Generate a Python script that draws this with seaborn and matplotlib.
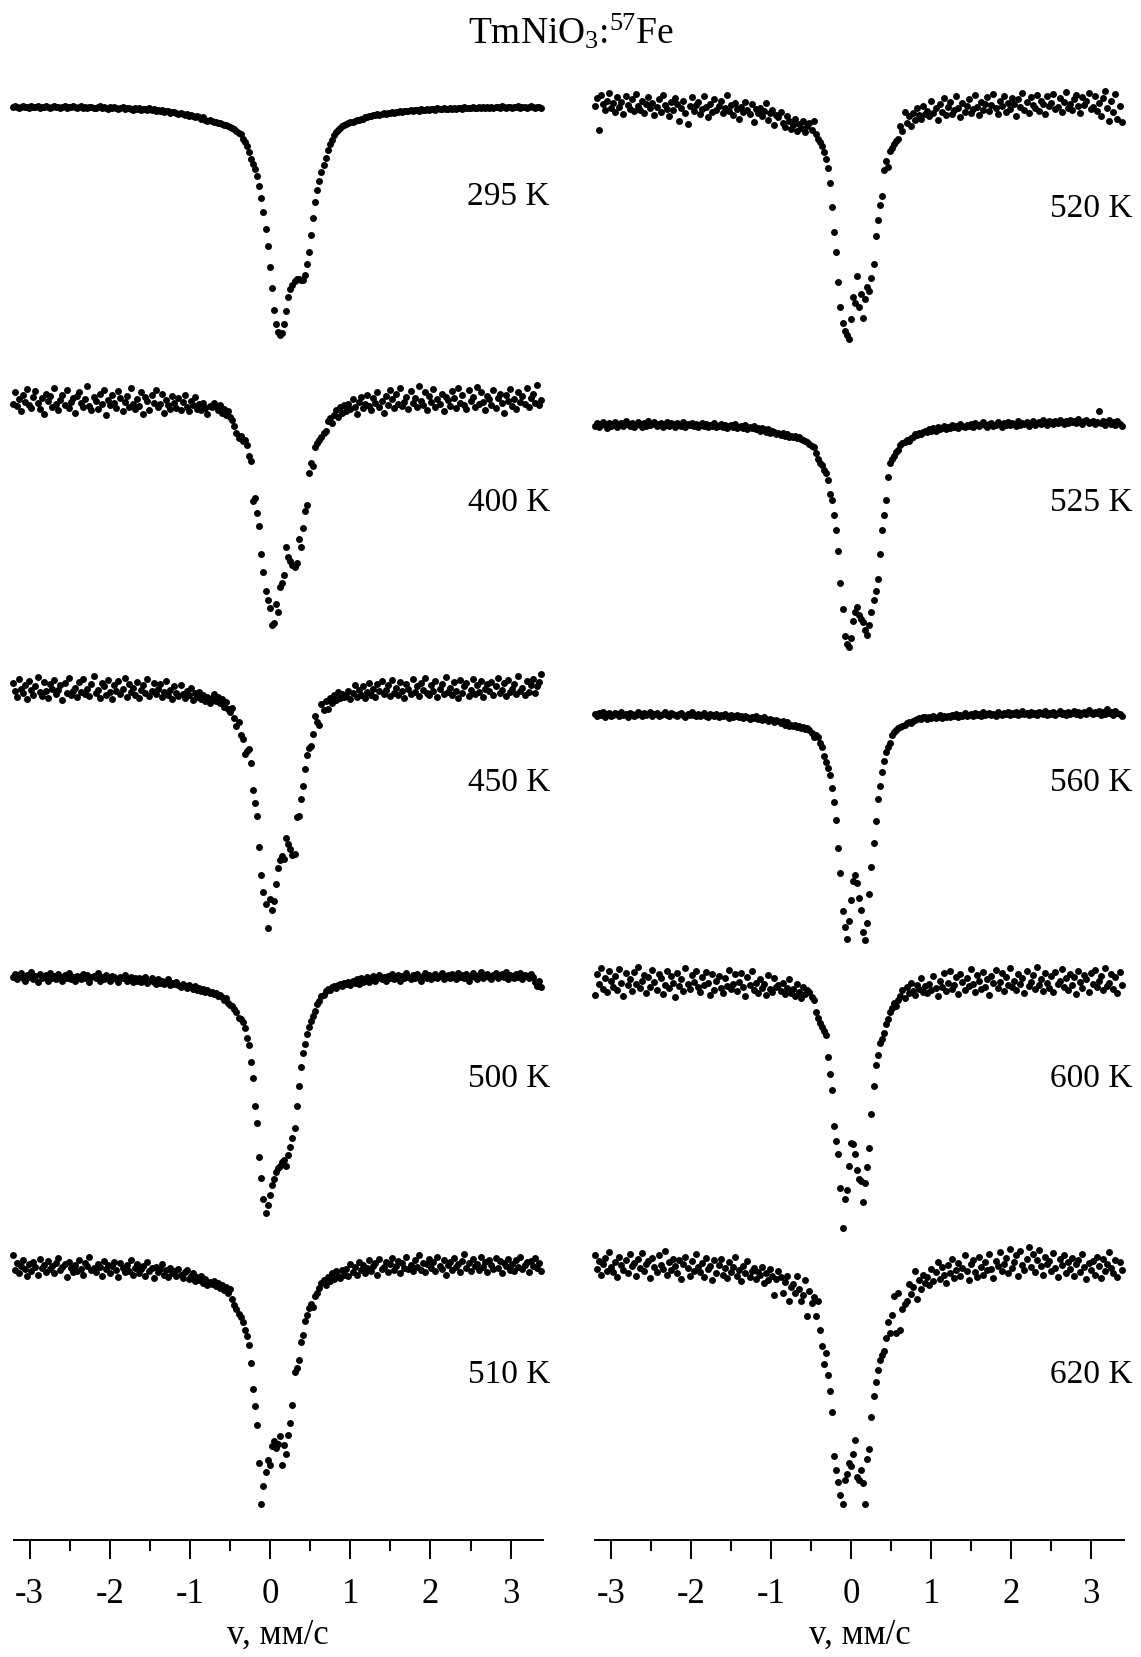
import numpy as np
import pandas as pd
import matplotlib
matplotlib.use("Agg")
import matplotlib.pyplot as plt
import seaborn as sns
from matplotlib.ticker import MultipleLocator

sns.set_theme(style="white")
plt.rcParams['font.family'] = ['Liberation Serif', 'DejaVu Serif']
plt.rcParams['mathtext.fontset'] = 'custom'
plt.rcParams['mathtext.rm'] = 'Liberation Serif'
plt.rcParams['mathtext.it'] = 'Liberation Serif:italic'
plt.rcParams['axes.unicode_minus'] = False

# ---------------- data ----------------
TITLE = r"TmNiO$_3$:$^{57}$Fe"
XLABEL = "v, мм/с"
V_START, V_STOP, N_CHANNELS = -3.21, 3.38, 256   # velocity of first / last channel, mm/s

LEFT_TEMPS = [295, 400, 450, 500, 510]
RIGHT_TEMPS = [520, 525, 560, 600, 620]

# resonant absorption (arb. units, 0 = off-resonance level) per channel
A295 = [1,0,1,2,1,0,1,1,2,0, 1,1,0,2,1,1,0,1,2,1, 0,1,1,2,1,0,2,1,1,0, 1,2,1,0,2,1,2,1,1,2,
        2,1,0,2,1,2,3,1,2,1, 2,3,2,1,3,2,2,3,4,2, 3,2,4,3,3,4,2,4,3,5, 4,5,4,6,5,5,7,6,6,7,
        8,7,8,9,8,10,9,10,11,10, 11,12,11,13,14,13,
        14,15,15,16,16,17,18,18,19,20,21,22,24,26,27,31,34,38,44,50,55,60,66,76,87,100,116,133,152,172,
        193,206,214,217,215,206,194,181,173,169,166,164,164,165,165,160,150,138,122,106,91,80,71,63,56,
        49,42,36,32,28,25,23,21,19,18,
        17,16,15,15,14,13,13,12,12,11, 11,10,10,9,9,8,9,8,7,8, 7,7,6,7,6,6,5,6,5,5, 5,4,5,4,4,5,3,4,4,3,
        4,3,3,4,2,3,3,2,3,3, 2,3,2,3,2,2,3,1,2,2, 2,1,2,2,1,2,1,2,1,2, 1,2,1,1,2,0,1,2,1,1,
        2,1,1,0,2,1,1,2,1,0, 1,2,1,1,2]
A400 = [3,-8,5,-2,10,-6,1,-11,4,7, -4,-9,2,8,-3,12,-7,0,-5,6, -12,3,9,-1,-6,4,-10,7,1,-3,
        11,-5,-8,2,6,-2,-14,5,9,-4, 0,8,-7,3,-10,13,-1,4,-6,2, 7,-9,-3,10,1,-5,6,-12,3,8,
        -2,5,-8,12,-4,0,9,-6,2,-10, 6,3,-7,11,-1,4,8,-5,2,7, -3,9,1,-6,6,10,0,4,-4,8, 3,9,2,7,12,5,
        6,2,5,9,4,11,8,13,10,15,18,24,30,35,33,38,37,42,52,57,95,92,106,118,145,162,180,188,196,212,
        210,192,200,176,172,165,138,148,151,155,157,153,131,138,120,104,98,68,59,62,44,40,37,34,30,
        28,19,16,21,13,9,15,6,11,4,
        10,3,8,-2,6,12,1,-4,7,3, -6,5,9,-3,2,-8,6,0,11,-5, 4,-10,-2,7,-7,3,-12,5,1,-4,
        8,-9,2,-3,6,-14,0,4,-8,9, -5,1,-11,6,-2,3,-7,10,-4,-1, 5,-9,-3,7,-12,2,-6,4,8,-10,
        0,-4,6,-13,3,-8,1,9,-5,-2, 4,-10,7,-3,-7,2,11,-6,0,-11, 5,-2,8,-8,1,-5,3,-12,6,-3, -7,2,-15,4,-1]
A450 = [-5,2,8,-9,0,4,-3,10,-7,1, 6,-2,-11,3,7,-6,2,9,-4,0, -8,5,1,-3,11,-5,4,-10,6,2,
        -1,8,-6,3,-9,5,0,7,-4,-12, 4,1,9,-5,-2,6,-8,3,10,-3, 2,-7,5,0,-10,8,-4,3,-1,6,
        -6,9,1,-3,4,-9,7,2,-5,5, 0,-4,8,3,-7,6,1,10,-2,4, 7,-3,5,9,2,6,-1,11,4,8, 3,10,6,12,8,14,
        9,5,12,8,14,10,17,13,19,22,18,28,35,32,44,48,62,59,57,70,96,108,120,150,176,192,204,226,199,209,
        201,185,170,162,158,161,141,147,152,157,156,121,120,104,92,76,63,56,54,43,26,32,34,15,20,
        12,19,9,14,6,11,3,9,5,8,
        7,2,10,4,-3,8,1,6,-2,9, 3,-5,6,0,8,-4,2,-7,5,1, -3,7,-8,4,-1,6,-6,2,9,-4,
        0,5,-9,3,-2,7,-5,1,-10,4, 6,-3,2,-7,8,0,-4,5,-11,3, -1,6,-6,2,9,-8,4,-2,-5,7,
        1,-9,5,-3,3,-7,8,0,-4,2, -6,6,-2,-10,4,1,-5,7,-8,3, 0,-4,5,-12,2,-1,6,-7,3,-3, -9,4,-2,-6,-14]
A500 = [0,-3,2,-1,-4,1,3,-2,0,-5, 2,-1,4,-3,1,0,-2,3,-4,1, -1,2,-3,0,3,-2,1,-4,2,0,
        3,-1,0,2,-3,1,-2,4,0,-1, 1,-4,3,0,2,-2,1,3,-1,0, 2,4,0,1,-2,3,2,0,4,1,
        3,1,4,2,0,5,3,1,4,6, 2,5,3,6,4,2,7,5,6,4, 7,9,6,8,10,7,9,11,8,12, 10,13,11,14,12,15,
        14,16,15,18,17,19,21,20,24,26,27,30,33,38,39,42,48,57,64,80,95,122,138,170,190,210,223,215,206,196,
        191,184,180,178,175,173,178,168,160,152,142,122,103,85,72,63,54,47,41,37,32,25,22,18,17,
        13,11,12,9,8,10,7,6,8,5,
        6,4,7,3,5,2,6,1,4,3, 0,4,2,-1,3,1,-2,2,0,3, -1,1,-3,2,0,-2,3,-1,1,-4,
        0,2,-2,1,-3,0,3,-1,-4,1, -2,2,0,-3,1,-1,-4,2,0,-2, 1,-3,-1,2,-4,0,-2,1,-3,3,
        -1,-4,0,2,-2,-5,1,-1,-3,0, 2,-2,-4,1,-1,-3,0,-5,2,-2, -1,1,-3,0,-4,2,-2,-1,1,-3, 0,4,8,3,9]
A510 = [-10,4,-3,7,0,-6,3,9,-2,5, -4,1,8,-7,2,-1,6,-5,3,0, 7,-3,-8,4,1,-2,10,-4,2,6,
        -1,5,-6,3,8,-3,0,-9,4,2, 6,-2,1,9,-5,3,-1,7,0,-4, 4,10,-3,2,6,-1,5,-6,8,2,
        -2,7,3,0,9,-4,5,2,11,1, 6,3,-2,8,4,10,2,7,5,9, 3,8,11,6,4,12,9,7,14,10, 13,9,16,12,18,15,
        17,14,19,16,21,18,23,20,25,22,31,37,41,45,48,53,60,66,75,92,116,132,150,186,225,208,195,183,188,170,
        165,172,168,161,188,169,178,160,148,131,100,96,89,72,65,52,46,40,36,39,28,25,21,16,13,
        18,10,14,7,12,5,9,11,4,8,
        3,9,-2,6,1,8,-4,4,-1,7, 2,-6,5,0,-3,8,-7,3,1,-4, 6,-2,-8,4,0,-5,7,-3,2,-9,
        3,-1,5,-6,1,-10,4,-3,6,-2, -7,2,-4,5,-9,0,3,-6,8,-1, -4,4,-8,1,-2,6,-5,-11,2,-3,
        5,-7,0,-2,4,-9,1,-4,6,-6, -1,3,-8,2,-5,7,-3,0,-7,4, -2,5,-6,1,-9,3,-1,-4,6,-5, 0,-8,2,-3,5]
A520 = [2,-5,25,-8,0,6,-3,-10,4,-1, 8,-6,3,-2,10,-7,1,5,-4,7, -9,2,6,-3,9,0,-6,4,-1,11,
        3,-4,8,-8,1,5,12,-2,6,-5, 0,16,4,-3,9,19,2,-6,7,1, -2,10,5,-7,3,13,0,8,-4,6,
        2,-3,9,4,-8,7,1,11,-1,5, 14,3,8,-2,6,10,0,17,5,9, 4,12,7,-1,15,9,6,20,11,13, 8,18,22,12,16,24,
        20,14,26,19,23,16,27,21,18,25,16,29,33,36,40,46,52,61,75,98,121,140,169,192,207,215,219,222,204,183,
        188,163,192,180,203,185,173,177,165,152,125,110,96,87,63,54,60,45,42,38,35,33,21,26,8,
        18,12,21,9,15,4,11,14,2,10,
        7,12,-3,9,4,15,0,8,-5,11, 3,-2,10,6,-7,4,13,-1,8,2, -4,9,5,-8,3,11,-2,6,0,-6,
        7,1,-9,4,10,-3,2,-7,8,-1, 5,-5,0,12,-4,3,-10,6,-2,9, -6,1,4,-8,7,-3,0,10,-7,2,
        -1,-9,5,3,-5,8,-2,-11,4,0, 6,-4,-8,2,9,-6,1,-3,-10,5, 3,-7,7,-1,12,-5,-12,4,16,-3, 8,-9,14,2,17]
A525 = [2,-1,3,0,-2,1,4,-1,2,0, -2,3,1,-1,2,-3,0,2,-1,3, 1,-2,0,3,-1,2,-3,1,0,-2,
        2,0,-1,3,1,-2,2,-1,0,3, -1,1,2,-2,3,0,1,-1,2,0, 3,1,-1,2,0,3,1,2,-1,3,
        2,0,3,1,4,2,1,3,0,4, 3,2,4,1,5,3,4,2,5,4, 6,4,5,7,5,8,6,7,9,8, 10,8,11,9,12,11,
        12,11,13,12,14,15,16,17,19,21,22,27,33,37,39,43,46,53,66,72,86,100,120,150,175,200,208,211,202,186,
        178,173,180,184,187,195,199,190,178,166,158,146,123,100,86,72,50,37,33,30,26,24,20,18,17,
        15,16,13,12,9,10,8,9,7,6,
        7,5,6,4,6,3,5,4,2,5, 3,4,1,3,2,4,0,2,3,1, 2,0,3,-1,1,2,0,-2,1,3,
        0,-1,2,1,-2,0,3,-1,1,-2, 1,-1,0,2,-3,1,-1,0,-2,2, 0,-3,1,-1,-2,0,-4,-1,1,-3,
        -2,0,-3,-1,-4,-2,0,-3,-1,-4, -2,-3,-1,-5,-2,0,-3,-4,-1,-2, -3,0,-2,-12,-1,-3,1,-2,-4,0, -2,1,-3,0,2]
A560 = [0,2,-1,1,-2,3,0,-1,2,1, -1,0,2,-2,1,0,3,-1,0,2, 1,-2,0,2,-1,1,0,-2,2,0,
        -1,2,1,0,-2,1,2,-1,0,1, 2,0,-1,1,3,0,1,-2,1,2, 0,2,1,-1,2,3,0,1,2,0,
        3,1,2,0,2,4,1,3,2,1, 3,2,4,2,3,5,3,4,2,5, 4,6,3,5,7,5,6,8,6,7, 9,7,10,8,11,10,
        11,10,12,11,13,12,14,13,15,18,22,20,22,27,31,40,45,51,58,70,83,100,127,150,186,201,213,196,176,158,
        152,160,174,185,206,214,198,170,145,122,101,80,68,55,44,36,31,27,20,17,15,13,12,11,10,
        9,8,9,7,6,5,4,5,3,3,
        5,3,4,2,4,3,1,4,2,3, 2,3,1,2,0,3,1,2,-1,2, 1,0,2,-1,1,0,2,-2,1,0,
        -1,1,0,2,-2,0,1,-1,0,-2, 1,-1,0,-2,1,0,-3,0,-1,1, -2,0,-1,1,-2,-1,0,-3,1,-1,
        0,-2,1,-1,-3,0,-1,1,-2,0, -1,-3,0,-2,1,-1,-2,0,-4,-1, 0,-2,-1,-3,1,-2,0,-5,-1,-2, 1,-3,-1,0,2]
A600 = [14,-6,3,-12,8,-2,11,-9,0,6, -4,9,-11,2,15,-7,4,-1,10,-8, 3,-13,7,0,-5,12,-3,6,-10,1,
        9,-6,-2,13,4,-9,7,-4,2,16, -7,5,-1,10,-12,3,8,-5,1,-9, 6,11,-3,4,-8,2,14,-6,9,0,
        -4,7,12,-2,5,-10,8,3,-6,10, 1,-7,6,15,-3,4,-9,9,2,12, -1,7,3,14,-5,8,11,-2,6,4, 10,2,13,7,-1,12,
        8,15,3,11,17,6,13,9,11,16,18,30,35,40,44,48,52,72,88,104,138,152,164,196,234,207,198,175,154,155,
        164,179,188,190,209,191,176,158,126,100,80,70,59,55,50,41,36,30,26,21,24,18,15,9,17,
        6,12,2,10,14,4,8,-2,11,5,
        12,3,9,-4,7,15,0,6,-7,10, 2,-9,8,4,-3,13,-6,1,9,-2, 5,-11,3,11,-5,0,8,-8,6,-1,
        14,-4,2,-10,7,1,-7,10,-3,4, -12,6,0,9,-6,3,-2,12,-9,5, 1,-5,8,-13,4,-1,10,-7,2,7,
        -4,11,-8,3,0,-11,6,-2,9,-6, 4,-3,13,-9,1,7,-5,-1,11,-7, 3,-10,6,0,-4,9,-12,5,2,-6, 8,-3,12,-8,4]
A620 = [-8,5,-3,10,0,-6,7,-11,3,8, -2,12,-7,1,6,-4,9,-9,2,-1, 11,-5,4,-10,7,0,-3,13,-6,3,
        8,-8,1,5,-12,10,-2,6,-5,2, 9,-4,14,0,-7,4,11,-3,7,-9, 3,8,-1,12,-6,5,2,15,-4,9,
        1,-5,10,4,13,-2,8,3,-7,11, 6,16,2,9,-3,12,7,4,14,8, 10,3,18,9,15,5,11,29,14,7, 12,27,17,11,35,22,
        19,27,11,24,35,29,15,49,26,37,31,49,35,62,78,95,84,105,120,140,182,195,206,218,227,204,199,188,191,180,
        166,201,204,195,207,227,184,175,145,125,112,100,91,86,82,70,55,65,48,30,65,27,62,43,38,
        35,19,28,22,7,33,15,24,10,18,
        12,20,5,16,8,-2,14,3,10,18, 1,9,-5,13,6,-1,11,4,-8,7, 15,0,-4,8,12,-7,3,10,-2,6,
        -9,5,13,-3,2,-11,7,0,-6,9, -14,4,-2,-8,11,-12,1,6,-5,-16, 3,-9,8,-4,-13,2,10,-7,0,-3,
        7,-10,4,12,-5,1,-8,9,-2,5, -6,11,0,-4,8,-9,3,14,-1,6, -3,10,-7,2,13,-5,7,0,-11,4, 9,-4,12,-2,6]

LEFT_SPECTRA = [A295, A400, A450, A500, A510]
RIGHT_SPECTRA = [A520, A525, A560, A600, A620]

# ---------------- layout ----------------
W, H = 1141, 1658
AXIS_Y_PX = 1541                   # bottom axis line (pixels from top)
Y_UNITS = 1457                     # vertical extent of a column in data units
LEFT_OFFSETS = [101, 380, 652, 925, 1198]
RIGHT_OFFSETS = [99, 402, 676, 928, 1196]
LEFT_LABEL_Y = [186, 475, 740, 1020, 1300]
RIGHT_LABEL_Y = [197, 475, 740, 1020, 1300]

columns = [
    dict(x0=13.5, x1=542.7, xlim=(-3.20, 3.40), temps=LEFT_TEMPS, spectra=LEFT_SPECTRA,
         offsets=LEFT_OFFSETS, label_y=LEFT_LABEL_Y, label_x=3.49),
    dict(x0=595.3, x1=1124.0, xlim=(-3.20, 3.41), temps=RIGHT_TEMPS, spectra=RIGHT_SPECTRA,
         offsets=RIGHT_OFFSETS, label_y=RIGHT_LABEL_Y, label_x=3.52),
]

fig = plt.figure(figsize=(W / 100, H / 100), dpi=100)
fig.patch.set_facecolor("white")

grid = np.linspace(V_START, V_STOP, N_CHANNELS)

for col in columns:
    ax = fig.add_axes([col["x0"] / W, (H - AXIS_Y_PX) / H,
                       (col["x1"] - col["x0"]) / W, AXIS_Y_PX / H])
    ax.set_facecolor("none")
    for temp, spec, off, ly in zip(col["temps"], col["spectra"], col["offsets"], col["label_y"]):
        vals = np.asarray(spec, dtype=float)
        df = pd.DataFrame({"v": grid[:len(vals)], "y": off + vals})
        sns.scatterplot(data=df, x="v", y="y", ax=ax, s=25, color="black",
                        linewidth=0, legend=False, clip_on=False)
        ax.text(col["label_x"], ly, f"{temp} K", ha="right", va="center",
                fontsize=24, color="black", clip_on=False)
    ax.set_xlim(*col["xlim"])
    ax.set_ylim(Y_UNITS, 0)
    for s in ["top", "left", "right"]:
        ax.spines[s].set_visible(False)
    ax.spines["bottom"].set_color("black")
    ax.spines["bottom"].set_linewidth(1.4)
    ax.xaxis.set_major_locator(MultipleLocator(1))
    ax.xaxis.set_minor_locator(MultipleLocator(0.5))
    ax.tick_params(axis="x", which="both", bottom=True, direction="out", color="black",
                   width=1.4)
    ax.tick_params(axis="x", which="major", length=14, labelsize=25, pad=12.5,
                   labelcolor="black")
    ax.tick_params(axis="x", which="minor", length=8)
    ax.set_yticks([])
    ax.set_ylabel("")
    ax.set_xlabel(XLABEL, fontsize=25, labelpad=6, color="black")
    ax.grid(False)

fig.text(0.5, 1 - 31.7 / H, TITLE, ha="center", va="center", fontsize=27, color="black")

fig.savefig("out.png", dpi=100, facecolor="white")
